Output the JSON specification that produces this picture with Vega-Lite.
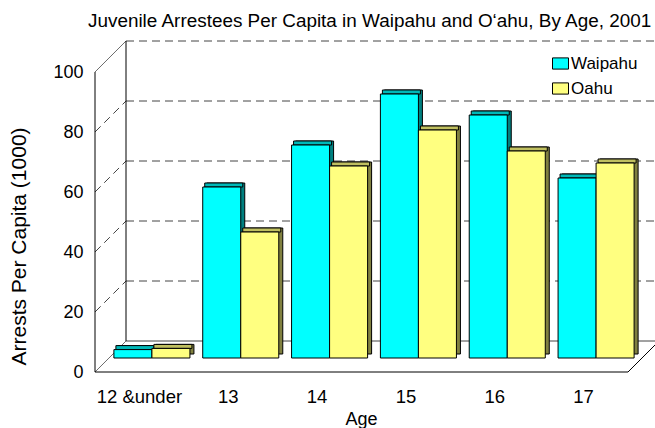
{
  "$schema": "https://vega.github.io/schema/vega-lite/v6.json",
  "width": 560,
  "height": 300,
  "autosize": {"type": "none"},
  "padding": {"left": 95, "top": 72, "right": 0, "bottom": 56},
  "background": "white",
  "config": {
    "font": "Liberation Sans",
    "view": {"stroke": null},
    "axis": {"labelFont": "Liberation Sans", "titleFont": "Liberation Sans", "labelColor": "black", "titleColor": "black", "titleFontWeight": "normal"},
    "legend": {"labelFont": "Liberation Sans", "labelColor": "black"}
  },
  "title": {
    "text": "Juvenile Arrestees Per Capita in Waipahu and O‘ahu, By Age, 2001",
    "anchor": "start",
    "frame": "group",
    "dx": -7,
    "fontSize": 18.9,
    "fontWeight": "normal",
    "color": "black",
    "font": "Liberation Sans",
    "offset": 10
  },
  "datasets": {
    "arrests": [
      {"Age": "12 &under", "Series": "Waipahu", "value": 2.8},
      {"Age": "12 &under", "Series": "Oahu", "value": 3.2},
      {"Age": "13", "Series": "Waipahu", "value": 57},
      {"Age": "13", "Series": "Oahu", "value": 42},
      {"Age": "14", "Series": "Waipahu", "value": 71},
      {"Age": "14", "Series": "Oahu", "value": 64},
      {"Age": "15", "Series": "Waipahu", "value": 88},
      {"Age": "15", "Series": "Oahu", "value": 76},
      {"Age": "16", "Series": "Waipahu", "value": 81},
      {"Age": "16", "Series": "Oahu", "value": 69},
      {"Age": "17", "Series": "Waipahu", "value": 60},
      {"Age": "17", "Series": "Oahu", "value": 65}
    ],
    "grid": [{"v": 0}, {"v": 20}, {"v": 40}, {"v": 60}, {"v": 80}, {"v": 100}]
  },
  "layer": [
    {
      "layer": [
        {
          "data": {"name": "grid"},
          "mark": {"type": "rule", "color": "#444444", "strokeWidth": 1, "xOffset": 31, "yOffset": -31, "y2Offset": -31},
          "encoding": {
            "x": {"datum": 0, "type": "quantitative", "scale": {"domain": [0, 6.304], "nice": false, "zero": false}, "axis": null},
            "x2": {"datum": 6.8},
            "y": {
              "field": "v", "type": "quantitative",
              "scale": {"domain": [0, 100], "nice": false},
              "axis": {
                "title": "Arrests Per Capita (1000)",
                "orient": "left",
                "values": [0, 20, 40, 60, 80, 100],
                "domain": false, "ticks": false, "tickSize": 0, "grid": false,
                "labelPadding": 12, "labelFontSize": 18, "titleFontSize": 21,
                "titleX": -76, "titleY": 174, "titleBaseline": "middle"
              }
            },
            "y2": {"field": "v"},
            "strokeDash": {"condition": {"test": "datum.v == 0", "value": [1, 0]}, "value": [8, 5]}
          }
        },
        {
          "data": {"name": "grid"},
          "mark": {"type": "rule", "color": "#444444", "strokeWidth": 1, "x2Offset": 31, "y2Offset": -31},
          "encoding": {
            "x": {"datum": 0, "type": "quantitative"},
            "x2": {"datum": 0},
            "y": {"field": "v", "type": "quantitative"},
            "y2": {"field": "v"},
            "strokeDash": {"condition": {"test": "datum.v == 0 || datum.v == 100", "value": [1, 0]}, "value": [8, 5]}
          }
        },
        {
          "data": {"values": [{}]},
          "mark": {"type": "rule", "color": "black", "strokeWidth": 1},
          "encoding": {
            "x": {"datum": 0, "type": "quantitative"},
            "y": {"datum": 0, "type": "quantitative"},
            "y2": {"datum": 100}
          }
        },
        {
          "data": {"values": [{}]},
          "mark": {"type": "rule", "color": "black", "strokeWidth": 1, "xOffset": 31, "yOffset": -31, "y2Offset": -31},
          "encoding": {
            "x": {"datum": 0, "type": "quantitative"},
            "y": {"datum": 0, "type": "quantitative"},
            "y2": {"datum": 100}
          }
        },
        {
          "data": {"values": [{}]},
          "mark": {"type": "rule", "color": "black", "strokeWidth": 1},
          "encoding": {
            "x": {"datum": 0, "type": "quantitative"},
            "x2": {"datum": 6},
            "y": {"datum": 0, "type": "quantitative"}
          }
        },
        {
          "data": {"values": [{}]},
          "mark": {"type": "rule", "color": "black", "strokeWidth": 1, "x2Offset": 31, "y2Offset": -31},
          "encoding": {
            "x": {"datum": 6, "type": "quantitative"},
            "x2": {"datum": 6},
            "y": {"datum": 0, "type": "quantitative"},
            "y2": {"datum": 0}
          }
        }
      ]
    },
    {
      "data": {"name": "arrests"},
      "mark": {"type": "bar", "stroke": "black", "strokeWidth": 1, "yOffset": -18, "y2Offset": -18},
      "encoding": {
        "x": {"field": "Age", "type": "nominal", "sort": ["12 &under", "13", "14", "15", "16", "17"], "scale": {"range": [16.5, 549.5], "paddingInner": 0.144, "paddingOuter": 0.072}, "axis": null},
        "xOffset": {"field": "Series", "type": "nominal", "sort": ["Waipahu", "Oahu"]},
        "y": {"field": "value", "type": "quantitative", "stack": null},
        "y2": {"datum": 0},
        "color": {"field": "Series", "type": "nominal", "scale": {"domain": ["Waipahu", "Oahu"], "range": ["#008080", "#808040"]}, "legend": null}
      }
    },
    {
      "data": {"name": "arrests"},
      "mark": {"type": "bar", "stroke": "black", "strokeWidth": 1, "yOffset": -18, "y2Offset": -14},
      "encoding": {
        "x": {"field": "Age", "type": "nominal", "sort": ["12 &under", "13", "14", "15", "16", "17"], "scale": {"range": [14.5, 547.5], "paddingInner": 0.144, "paddingOuter": 0.072}, "axis": null},
        "xOffset": {"field": "Series", "type": "nominal", "sort": ["Waipahu", "Oahu"]},
        "y": {"field": "value", "type": "quantitative", "stack": null},
        "y2": {"field": "value"},
        "color": {"field": "Series", "type": "nominal", "scale": {"domain": ["Waipahu", "Oahu"], "range": ["#00B8B8", "#C0C060"]}, "legend": null}
      }
    },
    {
      "data": {"name": "arrests"},
      "mark": {"type": "bar", "stroke": "black", "strokeWidth": 1, "yOffset": -14, "y2Offset": -14},
      "encoding": {
        "x": {
          "field": "Age", "type": "nominal", "sort": ["12 &under", "13", "14", "15", "16", "17"],
          "scale": {"range": [12.5, 545.5], "paddingInner": 0.144, "paddingOuter": 0.072},
          "axis": {
            "orient": "bottom",
            "title": "Age", "labelAngle": 0, "domain": false, "ticks": false, "tickSize": 0,
            "labelPadding": 15, "labelFontSize": 18.5, "titleFontSize": 18, "labelOffset": -12.5,
            "titleX": 266, "titleY": 38, "titleBaseline": "top"
          }
        },
        "xOffset": {"field": "Series", "type": "nominal", "sort": ["Waipahu", "Oahu"]},
        "y": {"field": "value", "type": "quantitative", "stack": null},
        "y2": {"datum": 0},
        "color": {
          "field": "Series", "type": "nominal",
          "scale": {"domain": ["Waipahu", "Oahu"], "range": ["#00FFFF", "#FFFF80"]},
          "legend": {
            "orient": "none", "legendX": 457, "legendY": -17, "title": null,
            "symbolType": "M-1,-0.7H1V0.7H-1Z", "symbolSize": 256, "symbolStrokeColor": "black", "symbolStrokeWidth": 1,
            "labelFontSize": 17, "labelOffset": 2, "rowPadding": 7, "padding": 0
          }
        }
      }
    }
  ],
  "resolve": {"scale": {"x": "independent", "xOffset": "independent", "color": "independent"}}
}
